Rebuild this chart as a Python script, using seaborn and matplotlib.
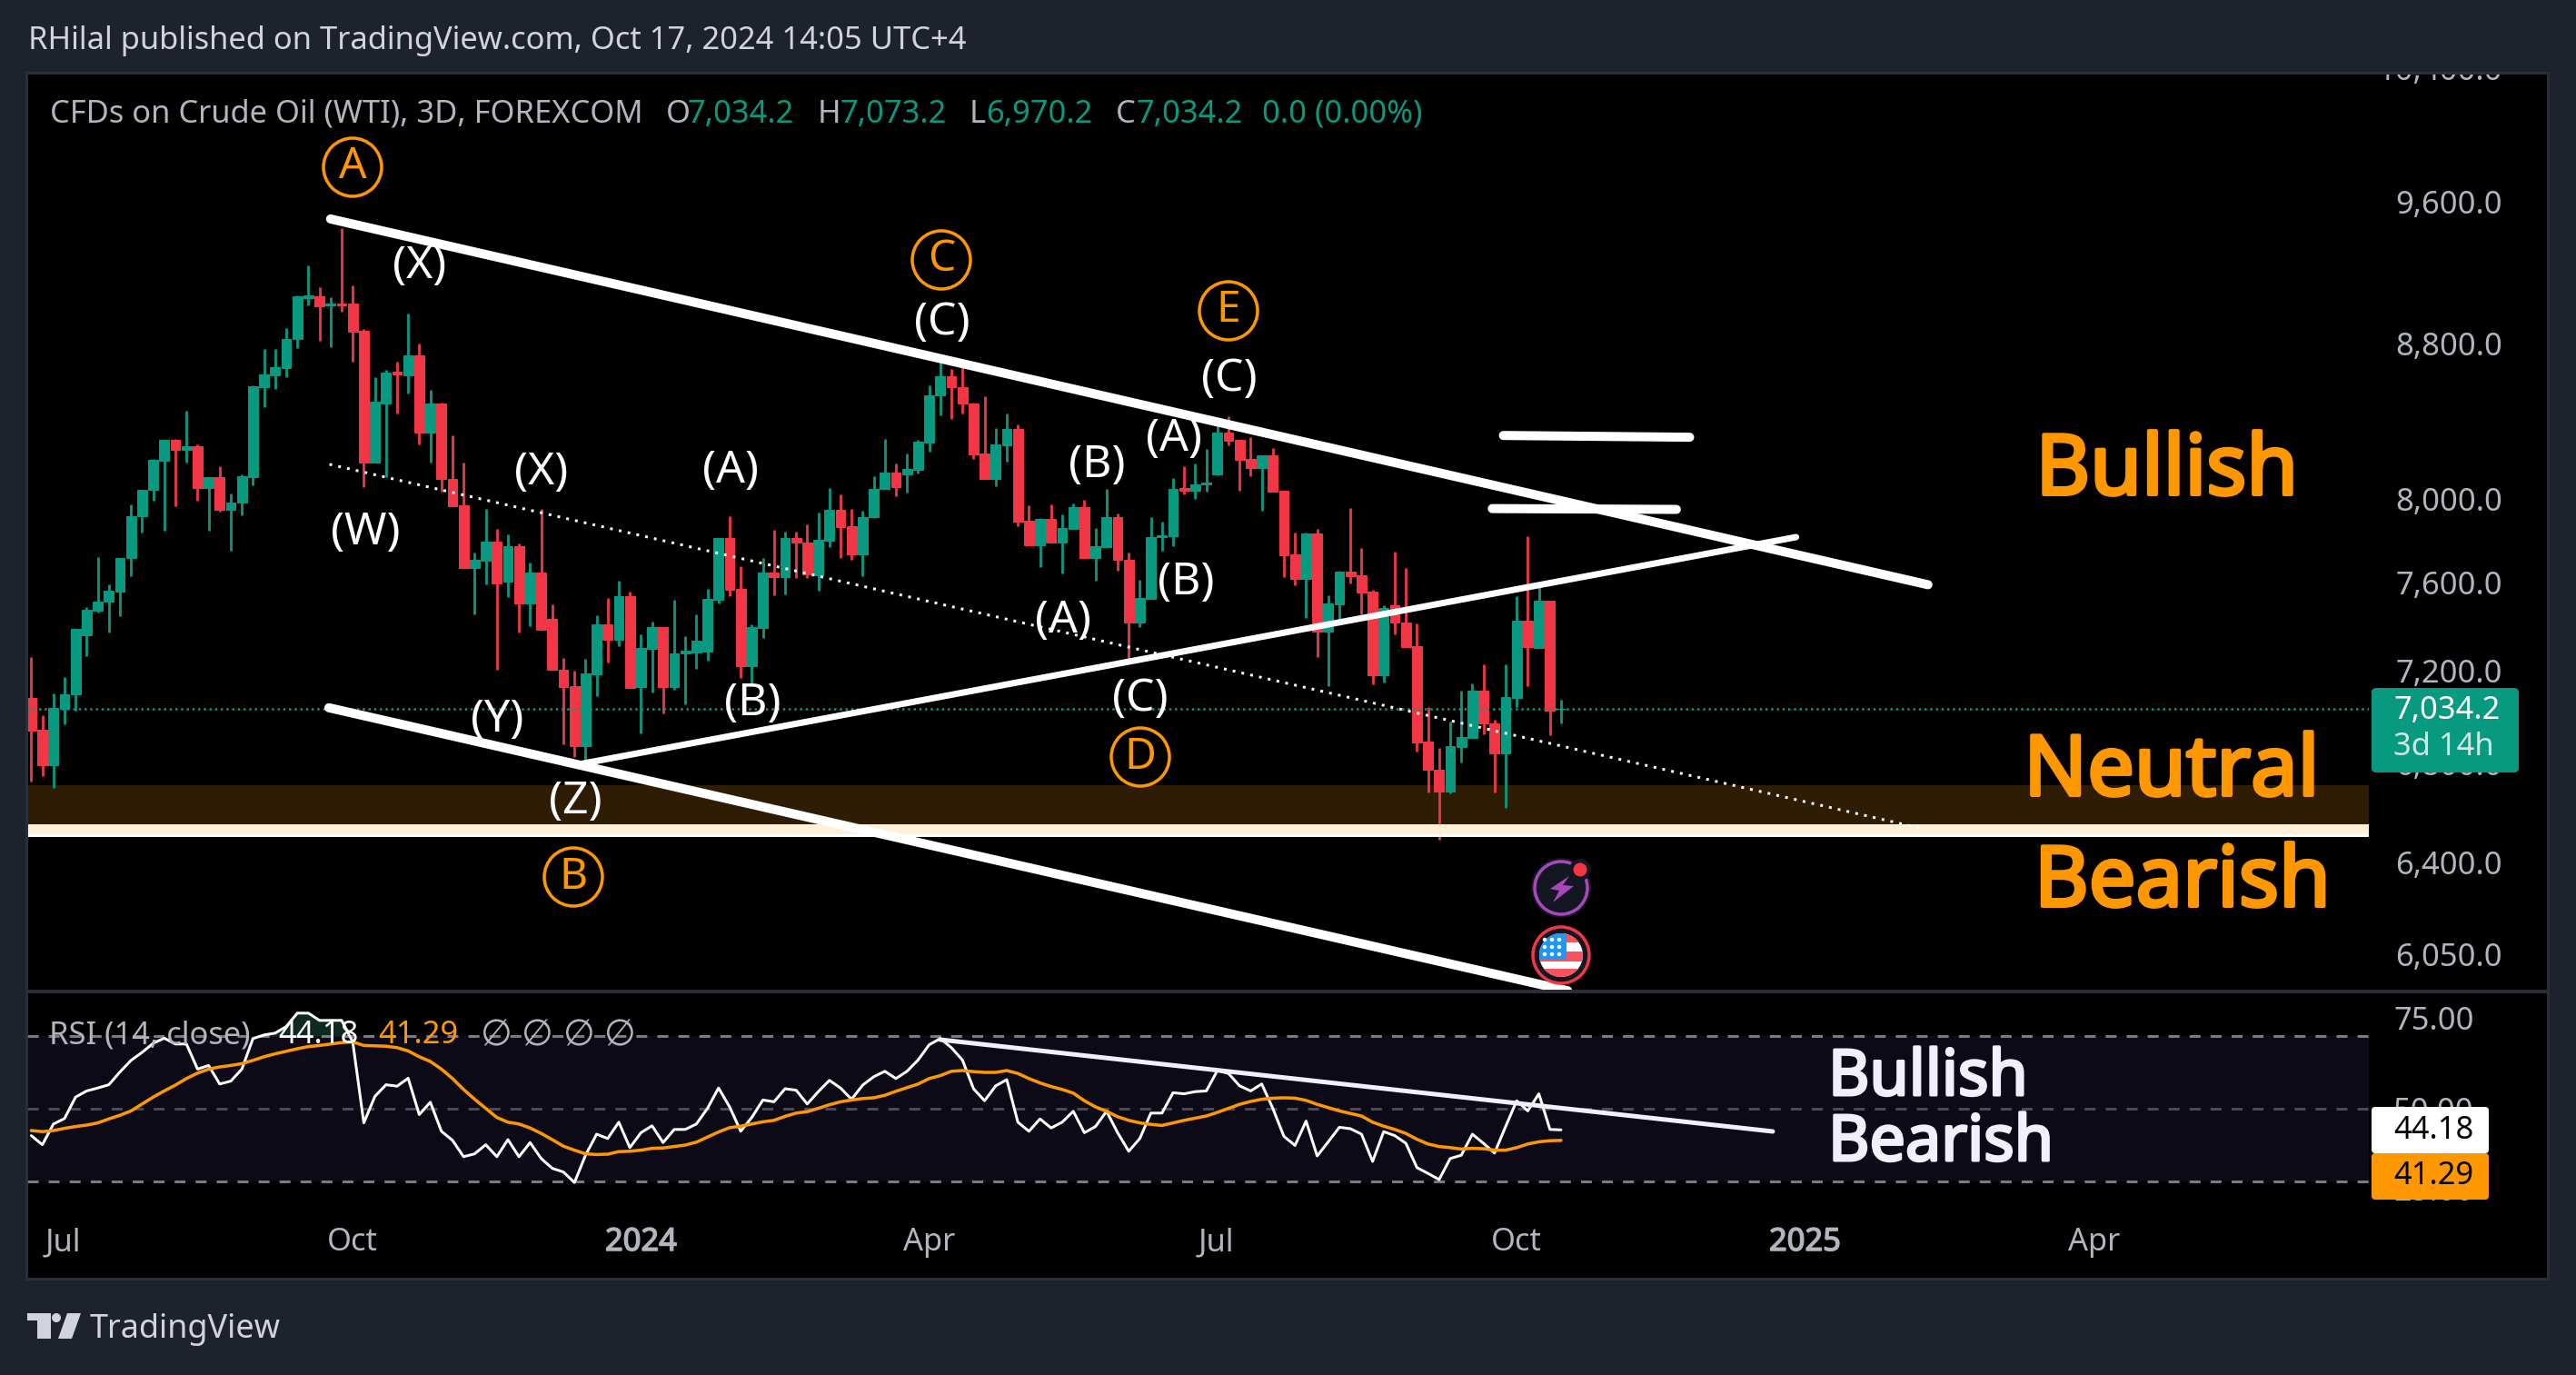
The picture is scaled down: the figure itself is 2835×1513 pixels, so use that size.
import numpy as np
import pandas as pd
import seaborn as sns
import matplotlib
matplotlib.use("Agg")
import matplotlib.pyplot as plt
import matplotlib.patheffects as pe
from matplotlib.patches import Circle, Polygon, Rectangle, FancyBboxPatch
from matplotlib.transforms import Affine2D
from matplotlib.ticker import FixedLocator, NullLocator

# --- price candles, 3D bars ---
opens = [7081,6943,6794,7034,7096,7360,7470,7510,7558,7716,
         7914,8045,8192,8295,8247,8263,8055,8108,7948,7984,
         8110,8567,8630,8669,8825,9048,9058,9007,9022,9017,
         8870,8180,8485,8650,8630,8737,8335,8482,8097,7970,
         7668,7703,7793,7605,7772,7503,7647,7433,7203,7132,
         6874,7184,7408,7338,7537,7128,7297,7395,7128,7277,
         7281,7285,7520,7811,7570,7220,7391,7647,7626,7811,
         7787,7635,7798,7947,7868,7733,7910,8050,8131,8122,
         8145,8282,8526,8625,8570,8485,8227,8099,8268,8350,
         7894,7776,7903,7789,7854,7961,7716,7767,7912,7707,
         7416,7525,7815,7820,8054,8041,8070,8122,8331,8295,
         8199,8154,8217,8041,7733,7618,7833,7375,7499,7652,
         7634,7558,7180,7495,7416,7309,6894,6776,6686,6870,
         6908,7112,6970,6844,7081,7425,7303,7516,7034.2]
closes = [6940,6794,7038,7096,7387,7475,7510,7562,7716,7916,
          8045,8195,8295,8247,8263,8055,8108,7945,7984,8113,
          8572,8635,8673,8825,9058,9063,9002,9022,9007,8865,
          8180,8490,8645,8635,8737,8335,8482,8097,7965,7668,
          7707,7793,7596,7772,7503,7647,7383,7203,7128,6874,
          7188,7406,7338,7537,7124,7301,7395,7128,7277,7289,
          7334,7525,7811,7566,7220,7395,7647,7626,7811,7787,
          7639,7802,7947,7863,7733,7912,8050,8131,8059,8149,
          8286,8526,8625,8570,8485,8222,8099,8272,8350,7890,
          7776,7903,7789,7859,7961,7716,7772,7912,7705,7416,
          7528,7815,7824,8050,8041,8072,8079,8331,8290,8195,
          8154,8217,8036,7729,7618,7833,7375,7503,7652,7630,
          7554,7180,7483,7416,7305,6890,6776,6686,6874,6912,
          7112,6970,6844,7085,7425,7305,7516,7026,7034.2]
highs = [7261,7004,7100,7172,7387,7486,7720,7592,7716,7973,
         8047,8200,8295,8300,8445,8272,8108,8163,8027,8120,
         8577,8770,8770,8885,9063,9232,9110,9053,9447,9120,
         8880,8620,8660,8703,8965,8800,8553,8487,8317,8180,
         7741,7951,7854,7830,7785,7694,7951,7499,7257,7200,
         7253,7449,7529,7609,7558,7362,7420,7395,7520,7354,
         7453,7570,7811,7916,7677,7408,7716,7850,7841,7841,
         7876,7934,8054,8023,7951,7943,8113,8300,8176,8227,
         8295,8577,8717,8664,8708,8487,8520,8355,8430,8375,
         7970,7907,7974,7925,7978,7997,7859,8050,7930,7741,
         7613,7912,7890,8104,8163,8176,8249,8412,8417,8295,
         8308,8217,8256,8041,7837,7837,7854,7541,7656,7956,
         7763,7566,7495,7746,7669,7410,7042,6866,6978,7112,
         7144,7228,6985,7230,7537,7820,7592,7516,7073.2]
lows = [6726,6749,6700,6965,7026,7263,7462,7370,7443,7630,
        7837,7990,7846,7965,8180,7990,7846,7936,7750,7921,
        8068,8466,8558,8620,8775,9007,8815,8780,8975,8703,
        8060,8180,8108,8430,8535,8272,8180,8036,7965,7668,
        7454,7592,7205,7532,7370,7400,7383,7203,6882,6828,
        6779,7088,7237,7309,7124,6928,7104,7014,7116,7054,
        7208,7245,7503,7537,7168,7136,7346,7541,7545,7622,
        7622,7562,7767,7716,7707,7630,7908,8050,8014,8032,
        8127,8236,8421,8403,8430,8197,8099,8063,8185,7868,
        7776,7673,7789,7643,7854,7716,7609,7767,7656,7241,
        7395,7525,7750,7772,8023,8000,8036,8117,8268,8041,
        8113,7943,8036,7626,7588,7437,7261,7132,7412,7596,
        7454,7140,7148,7362,7305,6851,6682,6490,6678,6806,
        6908,6924,6682,6620,7042,7132,7303,6920,6970.2]

# --- RSI (14, close) and its moving average ---
rsi = [42.6,40.1,45.8,47.3,53.2,54.9,55.7,56.6,60.1,63.3,
       65.5,68.0,69.4,67.8,67.8,60.9,61.9,56.8,57.6,60.9,
       69.3,70.3,70.8,72.6,76.3,76.3,74.3,74.3,74.3,68.4,
       46.1,53.4,56.6,56.2,58.4,48.4,51.8,43.8,41.3,36.8,
       37.6,40.1,36.8,41.5,36.8,40.7,36.3,33.6,32.6,29.7,
       37.2,43.0,41.8,46.3,39.3,43.4,45.3,40.7,44.3,44.3,
       45.8,50.1,55.7,50.5,43.8,47.6,52.4,51.9,55.5,55.1,
       51.3,54.7,57.8,55.7,52.6,56.5,58.8,60.3,58.3,60.3,
       63.4,67.6,69.3,66.8,63.4,55.5,52.2,56.3,58.0,46.3,
       43.8,47.2,44.7,46.3,49.3,43.4,45.1,49.3,43.4,38.3,
       41.8,48.8,48.8,54.4,54.1,54.7,54.9,60.5,59.7,56.3,
       54.9,56.8,50.1,42.4,39.9,46.6,37.0,40.9,44.9,44.5,
       43.0,35.5,43.7,42.6,40.5,33.8,32.2,30.5,36.3,37.2,
       43.0,40.5,37.8,45.1,52.2,49.4,54.1,44.3,44.18]
rsi_ma = [44.0,43.7,44.0,44.6,45.1,45.5,46.1,47.2,48.2,49.4,
          51.3,53.2,54.9,56.5,58.3,59.8,60.9,61.5,61.9,62.4,
          63.3,64.3,65.1,65.8,66.5,67.1,67.4,67.8,68.2,68.4,
          67.4,67.3,67.2,66.8,65.9,64.3,63.0,60.9,58.3,55.3,
          52.6,50.1,47.6,46.3,45.8,44.7,43.2,41.5,39.7,38.6,
          37.6,37.4,37.5,38.2,38.3,38.6,39.1,39.2,39.6,40.0,
          40.8,42.2,43.6,44.8,45.2,45.8,46.4,46.8,47.9,48.8,
          49.2,50.1,51.1,51.9,52.4,52.8,53.0,53.7,54.8,55.8,
          56.8,58.3,59.1,60.3,60.5,60.2,60.0,60.0,60.5,59.7,
          58.3,57.1,56.1,55.3,54.3,52.2,50.5,49.3,47.8,46.8,
          46.1,45.7,45.4,46.1,46.8,47.4,48.0,49.0,50.1,51.2,
          52.0,52.6,52.9,53.0,52.9,52.3,51.2,50.3,49.4,48.7,
          48.0,46.3,45.2,44.3,43.2,41.6,40.3,39.6,39.3,38.9,
          39.1,39.0,38.6,38.6,39.3,40.3,40.9,41.2,41.29]

# --- axis ticks ---
price_ticks = [6050, 6400, 6800, 7200, 7600, 8000, 8800, 9600]
rsi_ticks = [50, 75]
time_positions = [2.9, 29.0, 55.0, 81.0, 106.9, 134.0, 160.0, 186.1]
time_labels = ["Jul", "Oct", "2024", "Apr", "Jul", "Oct", "2025", "Apr"]

# --- analyst drawings: (bar number, price) ---
upper_channel = ([27.0, 171.1], [9500, 7590])
lower_channel = ([26.85, 138.6], [7038, 5916])
rising_line = ([49.4, 159.2], [6798, 7815])
mid_line = ([26.9, 170.9], [8172, 6532])
level_high = ([132.8, 149.6], [8318, 8309])
level_low = ([131.8, 148.4], [7953, 7949])
rsi_trend = ([82.0, 157.1], [69.0, 43.75])
neutral_zone = (6552, 6710)
support_band = (6509, 6552)
last_price = 7034.2

WIDTH, HEIGHT = 2835, 1513
DPI = 200
BG = "#1e222d"
UP = "#089981"
DOWN = "#f23645"
ORANGE = "#ff9800"
GREY = "#b2b5be"
LIGHT = "#d1d4dc"
FONT = ["Noto Sans", "DejaVu Sans"]
SMALL = 34.5


def pt(pixels):
    return pixels * 72 / DPI


def axes_rect(left, top, right, bottom):
    return [left / WIDTH, 1 - bottom / HEIGHT, (right - left) / WIDTH, (bottom - top) / HEIGHT]


def thicken(text, pixels, color):
    # the installed regular face has no bold, so stroke the glyphs
    text.set_path_effects([pe.withStroke(linewidth=pt(pixels), foreground=color)])


sns.set_theme(style="dark")
plt.rcParams["font.family"] = FONT
plt.rcParams["axes.unicode_minus"] = False

candles = pd.DataFrame({"open": opens, "high": highs, "low": lows, "close": closes})
candles["bar"] = np.arange(len(candles))
candles["color"] = np.where(candles["close"] >= candles["open"], UP, DOWN)

fig = plt.figure(figsize=(WIDTH / DPI, HEIGHT / DPI), dpi=DPI, facecolor=BG)
# overlay artists use reference pixels, y going down
PX = Affine2D().scale(1, -1).translate(0, HEIGHT)


def box(x0, y0, x1, y1, color, zorder=1, **kw):
    fig.add_artist(Rectangle((x0, y0), x1 - x0, y1 - y0, transform=PX, facecolor=color,
                             edgecolor="none", zorder=zorder, **kw))


def label(x, y, text, size, color=LIGHT, ha="left", family=None, zorder=5):
    return fig.text(x, y, text, transform=PX, fontsize=pt(size), color=color, ha=ha, va="center",
                    family=family or FONT, zorder=zorder)


box(30, 81, 2804, 1407, "#000000", zorder=-1)

# --- main pane ---
ax = fig.add_axes(axes_rect(30, 81, 2607, 1091), facecolor="#000000")
ax.set_yscale("log")
ax.set_xlim((30 - 34.4) / 12.2, (2607 - 34.4) / 12.2)
ax.set_ylim(6050 * np.exp(-41 / 1793), 6050 * np.exp(969 / 1793))
ax.axhspan(*neutral_zone, color="#2f1c04", lw=0, zorder=1)
ax.vlines(candles["bar"], candles["low"], candles["high"], colors=candles["color"], lw=pt(2.8), zorder=2)
ax.bar(candles["bar"], (candles["close"] - candles["open"]).abs(),
       bottom=candles[["open", "close"]].min(axis=1), width=0.88,
       color=candles["color"], edgecolor=candles["color"], linewidth=pt(1), zorder=2)
ax.axhline(last_price, color=UP, lw=pt(2.5), ls=(0, (1, 1.5)), zorder=2.5)
ax.axhspan(*support_band, color="#fff0d9", lw=0, zorder=3)
ax.axhline(support_band[0], color="#ffffff", lw=pt(3), zorder=3)

for line, px in [(upper_channel, 10), (lower_channel, 10), (rising_line, 7),
                 (level_high, 10), (level_low, 10)]:
    ax.plot(line[0], line[1], color="white", lw=pt(px), solid_capstyle="round", zorder=4)
ax.plot(mid_line[0], mid_line[1], color="white", lw=pt(3), ls=(0, (1, 2.3)), zorder=4)

ax.yaxis.tick_right()
ax.yaxis.set_major_locator(FixedLocator(price_ticks))
ax.yaxis.set_minor_locator(NullLocator())
ax.set_yticklabels([f"{t:,.1f}" for t in price_ticks], ha="right")
ax.tick_params(axis="y", length=0, pad=pt(2754 - 2607), labelsize=pt(SMALL), labelcolor=GREY)
ax.tick_params(axis="x", length=0, labelbottom=False)
ax.grid(False)
for spine in ax.spines.values():
    spine.set_visible(False)

# --- RSI pane ---
ax_rsi = fig.add_axes(axes_rect(30, 1093, 2607, 1350), facecolor="#000000")
bars = candles["bar"].to_numpy()
rsi_values = np.array(rsi)
ax_rsi.set_xlim(ax.get_xlim())
ax_rsi.set_ylim(30 - 50 / 4, 70 + 47 / 4)
ax_rsi.axhspan(30, 70, color="#0d0a17", lw=0, zorder=1)
ax_rsi.fill_between(bars, rsi_values, 70, where=rsi_values >= 70, interpolate=True,
                    color="#0d2a20", lw=0, zorder=1)
for level, shade in [(70, "#787b86"), (50, "#4a4b55"), (30, "#787b86")]:
    ax_rsi.axhline(level, color=shade, lw=pt(3), ls=(0, (4, 3.7)), zorder=2)
sns.lineplot(x=bars, y=rsi, ax=ax_rsi, color="white", lw=pt(3), errorbar=None, legend=False, zorder=3)
sns.lineplot(x=bars, y=rsi_ma, ax=ax_rsi, color=ORANGE, lw=pt(3.5), errorbar=None, legend=False, zorder=3)
ax_rsi.plot(rsi_trend[0], rsi_trend[1], color="#f3effa", lw=pt(5), solid_capstyle="round", zorder=4)

ax_rsi.yaxis.tick_right()
ax_rsi.set_yticks(rsi_ticks)
ax_rsi.set_yticklabels([f"{t:.2f}" for t in rsi_ticks], ha="right")
ax_rsi.tick_params(axis="y", length=0, pad=pt(2723 - 2607), labelsize=pt(SMALL), labelcolor=GREY)
ax_rsi.set_xticks(time_positions)
ax_rsi.set_xticklabels(time_labels)
ax_rsi.tick_params(axis="x", length=0, pad=pt(0), labelsize=pt(SMALL), labelcolor=GREY)
for tick in ax_rsi.get_xticklabels():
    if tick.get_text() in ("2024", "2025"):
        thicken(tick, 1.5, GREY)
ax_rsi.set_xlabel("")
ax_rsi.set_ylabel("")
ax_rsi.grid(False)
for spine in ax_rsi.spines.values():
    spine.set_visible(False)

# labels half hidden by the frame and the tags
label(2754, 79, "10,400.0", SMALL, GREY, ha="right", zorder=0.5)
label(2723, 1312, "25.00", SMALL, GREY, ha="right", zorder=0.5)

# --- frame over the panes ---
box(0, 0, WIDTH, 79, BG, zorder=1)
box(30, 79, 2804, 82, "#2a2e39", zorder=1)
box(30, 1089, 2804, 1093, "#2a2e39", zorder=1)
box(30, 1406, 2804, 1409, "#2a2e39", zorder=1)
box(28, 79, 31, 1409, "#2a2e39", zorder=1)
box(2803, 79, 2806, 1409, "#2a2e39", zorder=1)

label(31, 45, "RHilal published on TradingView.com, Oct 17, 2024 14:05 UTC+4", SMALL)

# chart legend line
label(55, 126, "CFDs on Crude Oil (WTI), 3D, FOREXCOM", SMALL, GREY)
for x, text, color in [(733, "O", GREY), (757, "7,034.2", UP), (900, "H", GREY), (925, "7,073.2", UP),
                       (1067, "L", GREY), (1085, "6,970.2", UP), (1228, "C", GREY), (1251, "7,034.2", UP),
                       (1389, "0.0 (0.00%)", UP)]:
    label(x, 126, text, SMALL, color)

# RSI legend line
label(54, 1139, "RSI (14, close)", SMALL, GREY)
label(306, 1139, "44.18", SMALL, "white")
label(416, 1139, "41.29", SMALL, ORANGE)
for x in [529, 574, 620, 665]:
    label(x, 1139, "\u2205", 40, GREY, family=["DejaVu Sans"])

# wave labels
for text, x, y in [("(X)", 462, 293), ("(W)", 402, 586), ("(X)", 596, 520), ("(A)", 804, 518),
                   ("(Y)", 547, 792), ("(Z)", 633, 882), ("(B)", 828, 774), ("(C)", 1037, 355),
                   ("(C)", 1353, 417), ("(A)", 1292, 483), ("(B)", 1207, 512), ("(B)", 1305, 641),
                   ("(A)", 1170, 683), ("(C)", 1255, 769)]:
    label(x, y, text, 50, "white", ha="center")

for text, x, y in [("A", 388, 184), ("C", 1036, 286), ("E", 1352, 342), ("D", 1255, 833), ("B", 631, 965)]:
    fig.add_artist(Circle((x, y), 32, transform=PX, fill=False, edgecolor=ORANGE, lw=pt(3.5), zorder=5))
    label(x, y, text, 48, ORANGE, ha="center")

# zone captions
for x, y, text in [(2385, 520, "Bullish"), (2390, 851, "Neutral"), (2402, 973, "Bearish")]:
    thicken(label(x, y, text, 92, ORANGE, ha="center"), 4, ORANGE)
for y, text in [(1187, "Bullish"), (1259, "Bearish")]:
    thicken(label(2012, y, text, 70, "#f3effa"), 3, "#f3effa")

# last price tag
fig.add_artist(FancyBboxPatch((2610, 757), 162, 93, boxstyle="round,pad=0,rounding_size=5", transform=PX,
                              facecolor=UP, edgecolor="none", zorder=4))
label(2634, 782, "7,034.2", SMALL, "white")
label(2634, 822, "3d 14h", SMALL, "#cfe9e3")

# RSI tags
fig.add_artist(FancyBboxPatch((2610, 1218), 129, 51, boxstyle="round,pad=0,rounding_size=4", transform=PX,
                              facecolor="white", edgecolor="none", zorder=4))
fig.add_artist(FancyBboxPatch((2610, 1269), 129, 51, boxstyle="round,pad=0,rounding_size=4", transform=PX,
                              facecolor=ORANGE, edgecolor="none", zorder=4))
label(2634, 1244, "44.18", SMALL, "#000000")
label(2634, 1294, "41.29", SMALL, "#000000")

# event badges
fig.add_artist(Circle((1718, 977), 33, transform=PX, facecolor="#131722", edgecolor="none", zorder=4))
fig.add_artist(Circle((1718, 977), 29, transform=PX, fill=False, edgecolor="#ab47bc", lw=pt(3.5), zorder=4))
fig.add_artist(Polygon([(1727, 964), (1706, 978), (1716, 980), (1709, 993), (1732, 975), (1720, 974)],
                       transform=PX, facecolor="#ab47bc", edgecolor="none", zorder=4))
fig.add_artist(Circle((1739, 957), 12, transform=PX, facecolor="#131722", edgecolor="none", zorder=4))
fig.add_artist(Circle((1739, 957), 7.5, transform=PX, facecolor=DOWN, edgecolor="none", zorder=4))

fig.add_artist(Circle((1718, 1051), 31, transform=PX, facecolor="#131722", edgecolor=DOWN, lw=pt(3.5), zorder=4))
flag_disc = Circle((1718, 1051), 24, transform=PX, facecolor="white", edgecolor="none", zorder=4)
fig.add_artist(flag_disc)
for y0, y1 in [(1027, 1037), (1047, 1058), (1066, 1076)]:
    stripe = Rectangle((1694, y0), 48, y1 - y0, transform=PX, facecolor="#f7525f", edgecolor="none", zorder=4.1)
    fig.add_artist(stripe)
    stripe.set_clip_path(flag_disc)
canton = Rectangle((1694, 1027), 30, 29, transform=PX, facecolor="#2196f3", edgecolor="none", zorder=4.2)
fig.add_artist(canton)
canton.set_clip_path(flag_disc)
for y in [1034, 1042, 1050]:
    for x in [1700, 1708, 1716]:
        fig.add_artist(Circle((x, y), 2.2, transform=PX, facecolor="white", edgecolor="none", zorder=4.3))

# logo
box(30, 1445, 56, 1453, "#d1d4dc", zorder=5)
box(41, 1445, 56, 1473, "#d1d4dc", zorder=5)
fig.add_artist(Circle((62, 1450), 5, transform=PX, facecolor="#d1d4dc", edgecolor="none", zorder=5))
fig.add_artist(Polygon([(74, 1445), (89, 1445), (79, 1473), (64, 1473)], transform=PX,
                       facecolor="#d1d4dc", edgecolor="none", zorder=5))
label(99, 1463, "TradingView", 36, LIGHT)

fig.savefig("out.png", dpi=DPI, facecolor=BG)
